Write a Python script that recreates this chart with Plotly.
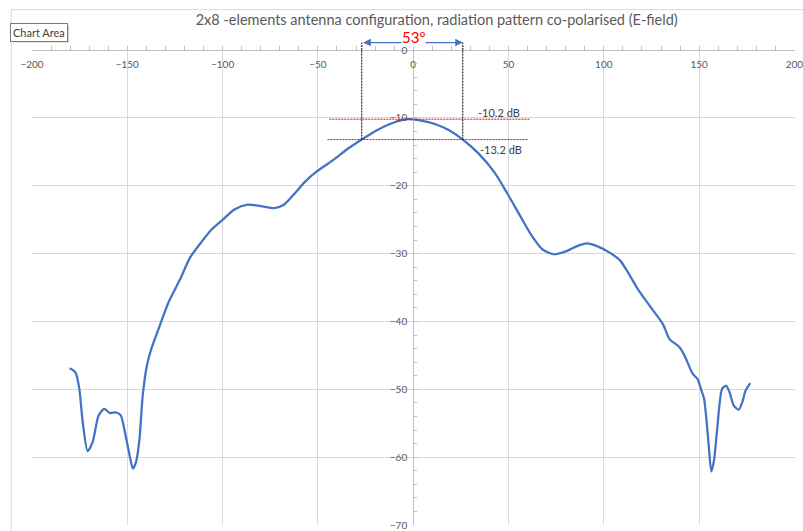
import plotly.graph_objects as go

# Co-polarised E-plane radiation pattern of the 2x8 array
angle_deg = [-180.3, -177.2, -175.2, -173.4, -170.8, -168.2, -165.1, -162.1, -159.2,
             -156.1, -153.5, -150.9, -148.6, -147.1, -145.4, -143.6, -141.9, -139.7,
             -137.1, -133.6, -128.4, -122.3, -117.1, -111.1, -105.9, -99.9, -93.8,
             -86.9, -80.0, -73.0, -67.9, -62.7, -56.7, -50.6, -41.9, -35.0, -27.0, -19.5,
             -12.5, -5.6, -2.0, 4.8, 11.7, 18.6, 26.0, 34.1, 42.8, 49.7, 55.8, 61.8,
             67.9, 73.9, 80.8, 86.0, 91.2, 96.4, 103.3, 108.5, 112.5, 118.0, 124.1,
             131.0, 134.5, 139.7, 142.3, 146.6, 149.2, 150.9, 152.6, 154.9, 156.4,
             157.8, 159.5, 162.1, 164.2, 165.9, 168.2, 170.8, 172.9, 174.2, 176.8]
gain_db = [-46.9, -47.5, -49.9, -54.8, -59.1, -57.8, -53.9, -52.9, -53.5,
           -53.4, -53.8, -56.8, -60.0, -61.7, -60.7, -57.3, -50.9, -46.5,
           -43.8, -41.1, -37.2, -33.8, -30.6, -28.3, -26.5, -25.0, -23.5,
           -22.8, -23.0, -23.3, -22.8, -21.3, -19.4, -17.9, -16.2, -14.7, -13.2, -11.9,
           -10.95, -10.3, -10.2, -10.45, -10.95, -11.8, -13.2, -15.2, -18.1, -21.3, -24.3, -27.2,
           -29.4, -30.1, -29.6, -28.9, -28.5, -28.9, -29.9, -31.0, -32.7, -35.3, -37.7,
           -40.4, -42.6, -43.8, -45.0, -47.7, -48.5, -49.9, -51.4, -57.8, -62.1,
           -60.5, -55.8, -49.9, -49.5, -50.4, -52.4, -53.0, -51.7, -50.3, -49.1]

x_ticks = [-200, -150, -100, -50, 0, 50, 100, 150, 200]
y_ticks = [0, -10, -20, -30, -40, -50, -60, -70]

# Half-power beam markers
peak_db = -10.2
edge_db = -13.2
hpbw_left = -27
hpbw_right = 26
beamwidth_label = "53º"
peak_label = "-10.2 dB"
edge_label = "-13.2 dB"

title_text = "2x8 -elements antenna configuration, radiation pattern co-polarised (E-field)"

W, H = 803, 531
ML, MR, MT, MB = 32, 0, 50, 4
PW, PH = W - ML - MR, H - MT - MB
X_MAX = 200.3


def xp(px):
    return (px - ML) / PW


def yp(py):
    return (H - MB - py) / PH


GRID = "#d9d9d9"
AXIS = "#bfbfbf"
TXT = "#595959"
BLUE = "#4472C4"
RED = "#ff0000"

fig = go.Figure()
fig.add_trace(go.Scatter(
    x=angle_deg, y=gain_db, mode="lines",
    line=dict(color=BLUE, width=2.25, shape="spline", smoothing=0.7),
    hoverinfo="x+y",
))

# -10.2 dB and -13.2 dB reference levels
fig.add_shape(type="line", xref="x", yref="y", x0=-44, x1=61, y0=peak_db, y1=peak_db,
              line=dict(color=RED, width=1, dash="2px,1px"))
fig.add_shape(type="line", xref="x", yref="y", x0=-45, x1=60, y0=edge_db, y1=edge_db,
              line=dict(color=RED, width=1, dash="2px,1px"))

# Beam edge verticals (inside the plot, then up to the width arrow)
for xv in (hpbw_left, hpbw_right):
    fig.add_shape(type="line", xref="x", yref="y", x0=xv, x1=xv, y0=edge_db, y1=0,
                  line=dict(color="#000000", width=1, dash="2px,1px"))
    fig.add_shape(type="line", xref="x", yref="paper", x0=xv, x1=xv, y0=1, y1=yp(42.5),
                  line=dict(color="#000000", width=1, dash="2px,1px"))

# Outer chart-area frame
fig.add_shape(type="rect", xref="paper", yref="paper", x0=xp(11), x1=xp(812),
              y0=yp(540), y1=yp(9.5), line=dict(color=GRID, width=1), layer="below")
# "Chart Area" tooltip shadow
fig.add_shape(type="rect", xref="paper", yref="paper", x0=xp(12.5), x1=xp(69.5),
              y0=yp(42.5), y1=yp(25.5), line=dict(width=0), fillcolor="#cfcfcf", layer="below")

fig.add_annotation(xref="x", yref="paper", x=hpbw_right, y=yp(42.5),
                   axref="x", ayref="pixel", ax=hpbw_left, ay=0,
                   text="", showarrow=True, arrowside="end+start", arrowhead=2,
                   arrowsize=1.2, arrowwidth=1.25, arrowcolor=BLUE, standoff=0, startstandoff=0)
fig.add_annotation(xref="x", yref="paper", x=0, y=yp(37), text=beamwidth_label,
                   showarrow=False, font=dict(size=15, color=RED), bgcolor="white",
                   borderpad=0, xanchor="center", yanchor="middle")
fig.add_annotation(xref="x", yref="y", x=33, y=peak_db, text=peak_label, showarrow=False,
                   font=dict(size=11, color="#404040"), xanchor="left", yanchor="bottom",
                   yshift=-2)
fig.add_annotation(xref="x", yref="y", x=34, y=edge_db, text=edge_label, showarrow=False,
                   font=dict(size=11, color="#404040"), xanchor="left", yanchor="top",
                   yshift=-1)
fig.add_annotation(xref="paper", yref="paper", x=xp(10), y=yp(23), text="Chart Area",
                   showarrow=False, xanchor="left", yanchor="top",
                   font=dict(size=11, color="#404040"), bgcolor="white",
                   bordercolor="#7a7a7a", borderwidth=1, borderpad=2)

fig.update_layout(
    width=W, height=H,
    margin=dict(l=ML, r=MR, t=MT, b=MB, pad=0),
    paper_bgcolor="white", plot_bgcolor="white",
    showlegend=False,
    font=dict(family="Lato, Calibri, sans-serif", color=TXT, size=10),
    title=dict(text=title_text, x=436.7 / W, xref="container", xanchor="center",
               y=1 - 20 / H, yref="container", yanchor="middle",
               font=dict(size=14.5, color=TXT)),
    # angle axis crosses at 0 dB (top of the plot), labels hang below it
    xaxis=dict(
        range=[-200, X_MAX], side="bottom", anchor="free", position=1, tickvals=x_ticks,
        showgrid=True, gridcolor=GRID, gridwidth=1, zeroline=False,
        showline=True, linecolor=AXIS, linewidth=1,
        ticks="inside", ticklen=4, tickcolor=AXIS,
        ticklabelposition="outside", ticklabeloverflow="allow", ticklabelstandoff=5,
        tickfont=dict(size=10, color=TXT),
        minor=dict(dtick=10, ticks="inside", ticklen=4, tickcolor=AXIS, showgrid=False),
    ),
    # gain axis crosses at 0 degrees
    yaxis=dict(
        range=[-70, 0], anchor="free", position=200 / (200 + X_MAX), side="left",
        tickvals=y_ticks,
        showgrid=True, gridcolor=GRID, gridwidth=1, zeroline=False,
        showline=True, linecolor=AXIS, linewidth=1,
        ticks="inside", ticklen=4, tickcolor=AXIS,
        ticklabeloverflow="allow", ticklabelstandoff=4,
        tickfont=dict(size=10, color=TXT),
        minor=dict(dtick=2, ticks="inside", ticklen=3, tickcolor=AXIS, showgrid=False),
    ),
)

fig.write_html("out.html")
